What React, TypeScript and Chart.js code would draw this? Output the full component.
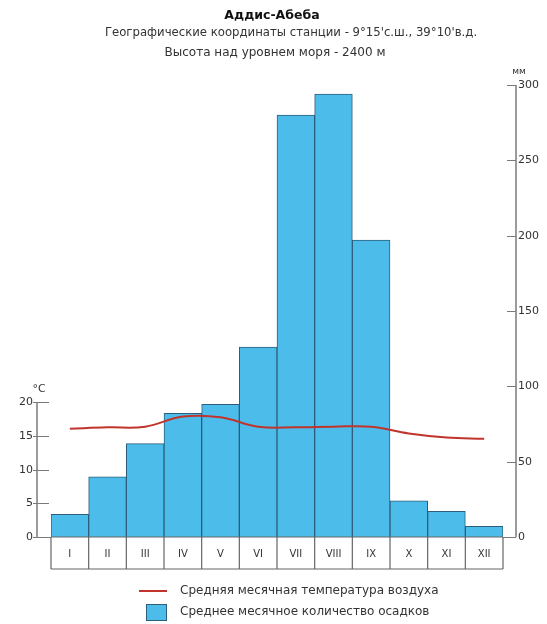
import React, { useEffect, useRef } from "react";
import { Chart, registerables } from "chart.js";

Chart.register(...registerables);

const months = ["I", "II", "III", "IV", "V", "VI", "VII", "VIII", "IX", "X", "XI", "XII"];
const precipitation = [15, 40, 62, 82, 88, 126, 280, 294, 197, 24, 17, 7];
const temperature = [16.1, 16.3, 16.4, 17.9, 17.8, 16.4, 16.3, 16.4, 16.4, 15.4, 14.8, 14.6];
const tempTicks = [0, 5, 10, 15, 20];
const precipTicks = [0, 50, 100, 150, 200, 250, 300];

const titleText = "Аддис-Абеба";
const subtitleText = "Географические координаты станции - 9°15'с.ш., 39°10'в.д.";
const heightText = "Высота над уровнем моря - 2400 м";
const legendTemp = "Средняя месячная температура воздуха";
const legendPrecip = "Среднее месячное количество осадков";

const FONT = "'DejaVu Sans', Verdana, sans-serif";
const AXIS = "#7a7a7a";
const TEXT = "#333333";
const BAR_FILL = "#4cbdea";
const BAR_BORDER = "#2d5f7c";
const LINE = "#c0342c";

const decor = {
  id: "decor",
  afterDraw(chart: any) {
    const ctx = chart.ctx;
    const area = chart.chartArea;
    const yT = chart.scales.yT;
    const yP = chart.scales.yP;
    const x = chart.scales.x;
    ctx.save();

    // titles
    ctx.fillStyle = "#111";
    ctx.textAlign = "center";
    ctx.textBaseline = "middle";
    ctx.font = `bold 12.5px ${FONT}`;
    ctx.fillText(titleText, 272, 16);
    ctx.fillStyle = TEXT;
    ctx.font = `11.7px ${FONT}`;
    ctx.fillText(subtitleText, 291, 33);
    ctx.font = `12px ${FONT}`;
    ctx.fillText(heightText, 275, 53);

    // left axis
    const lx = area.left - 14;
    ctx.strokeStyle = AXIS;
    ctx.lineWidth = 1.5;
    ctx.beginPath();
    ctx.moveTo(lx, yT.getPixelForValue(0));
    ctx.lineTo(lx, yT.getPixelForValue(20));
    ctx.stroke();
    ctx.lineWidth = 1;
    ctx.font = `11px ${FONT}`;
    ctx.textAlign = "right";
    ctx.fillStyle = TEXT;
    tempTicks.forEach((v) => {
      const py = Math.round(yT.getPixelForValue(v)) + 0.5;
      ctx.beginPath();
      ctx.moveTo(lx - 4, py);
      ctx.lineTo(v === 0 ? area.left : area.left - 2, py);
      ctx.stroke();
      ctx.fillText(String(v), lx - 4, py);
    });
    ctx.textAlign = "center";
    ctx.fillText("°C", lx + 2, yT.getPixelForValue(20) - 13);

    // right axis
    const rx = area.right + 13;
    ctx.lineWidth = 1.5;
    ctx.beginPath();
    ctx.moveTo(rx, yP.getPixelForValue(0));
    ctx.lineTo(rx, yP.getPixelForValue(300));
    ctx.stroke();
    ctx.lineWidth = 1;
    ctx.textAlign = "left";
    precipTicks.forEach((v) => {
      const py = Math.round(yP.getPixelForValue(v)) + 0.5;
      ctx.beginPath();
      ctx.moveTo(v === 0 ? area.right : rx - 9, py);
      ctx.lineTo(rx, py);
      ctx.stroke();
      ctx.fillText(String(v), rx + 2, py);
    });
    ctx.font = `9px ${FONT}`;
    ctx.textAlign = "center";
    ctx.fillText("мм", rx + 3, yP.getPixelForValue(300) - 13);

    // month boxes
    const top = area.bottom;
    const bottom = area.bottom + 32;
    ctx.strokeStyle = "#666";
    ctx.lineWidth = 1.2;
    ctx.beginPath();
    ctx.moveTo(area.left, bottom);
    ctx.lineTo(area.right, bottom);
    ctx.moveTo(area.left, top);
    ctx.lineTo(area.right, top);
    const step = (area.right - area.left) / months.length;
    for (let i = 0; i <= months.length; i++) {
      const bx = area.left + i * step;
      ctx.moveTo(bx, top);
      ctx.lineTo(bx, bottom);
    }
    ctx.stroke();
    ctx.font = `10px ${FONT}`;
    ctx.fillStyle = TEXT;
    ctx.textBaseline = "middle";
    months.forEach((m, i) => {
      ctx.fillText(m, x.getPixelForValue(i), (top + bottom) / 2 + 1);
    });

    // legend
    ctx.strokeStyle = LINE;
    ctx.lineWidth = 2;
    ctx.beginPath();
    ctx.moveTo(139, 591);
    ctx.lineTo(167, 591);
    ctx.stroke();
    ctx.fillStyle = BAR_FILL;
    ctx.fillRect(146, 604, 21, 17);
    ctx.strokeStyle = BAR_BORDER;
    ctx.lineWidth = 1;
    ctx.strokeRect(146.5, 604.5, 20, 16);
    ctx.fillStyle = TEXT;
    ctx.textAlign = "left";
    ctx.font = `12px ${FONT}`;
    ctx.fillText(legendTemp, 180, 591);
    ctx.fillText(legendPrecip, 180, 612);

    ctx.restore();
  },
};

export default function App() {
  const ref = useRef<HTMLCanvasElement | null>(null);
  useEffect(() => {
    if (!ref.current) return;
    const chart = new Chart(ref.current, {
      type: "bar",
      data: {
        labels: months,
        datasets: [
          {
            type: "line",
            label: legendTemp,
            data: temperature,
            yAxisID: "yT",
            borderColor: LINE,
            borderWidth: 2,
            pointRadius: 0,
            tension: 0.4,
            order: 0,
          } as any,
          {
            type: "bar",
            label: legendPrecip,
            data: precipitation,
            yAxisID: "yP",
            backgroundColor: BAR_FILL,
            borderColor: BAR_BORDER,
            borderWidth: 1,
            barPercentage: 1,
            categoryPercentage: 1,
            order: 1,
          },
        ],
      },
      options: {
        responsive: false,
        animation: false,
        layout: { padding: { left: 51, right: 44, top: 85, bottom: 87 } },
        plugins: { legend: { display: false }, title: { display: false }, tooltip: { enabled: false } },
        scales: {
          x: { display: false, offset: true },
          yT: { display: false, min: 0, max: 67.2, position: "left" },
          yP: { display: false, min: 0, max: 300, position: "right" },
        },
      },
      plugins: [decor],
    });
    return () => chart.destroy();
  }, []);
  return (
    <div style={{ position: "fixed", left: 0, top: 0, width: 547, height: 624, background: "#fff" }}>
      <canvas ref={ref} width={547} height={624} style={{ width: 547, height: 624 }} />
    </div>
  );
}
